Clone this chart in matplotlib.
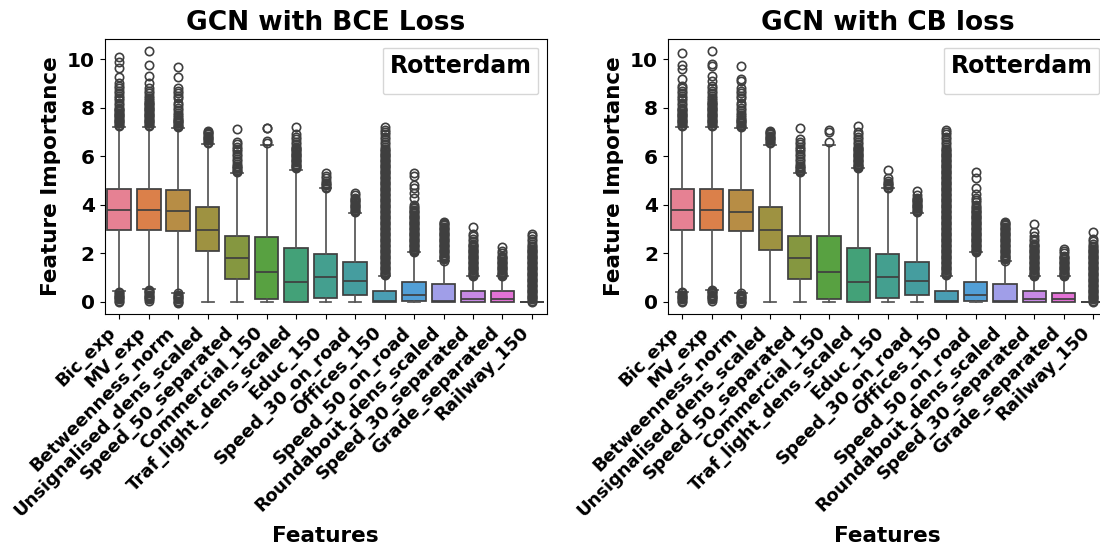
import matplotlib
matplotlib.use("Agg")
import matplotlib.pyplot as plt
from matplotlib.lines import Line2D
import seaborn as sns

features = ['Bic_exp', 'MV_exp', 'Betweenness_norm', 'Unsignalised_dens_scaled',
            'Speed_50_separated', 'Commercial_150', 'Traf_light_dens_scaled', 'Educ_150',
            'Speed_30_on_road', 'Offices_150', 'Speed_50_on_road', 'Roundabout_dens_scaled',
            'Speed_30_separated', 'Grade_separated', 'Railway_150']

# box statistics: whisker low, q1, median, q3, whisker high
bce_whislo = [0.45, 0.52, 0.38, 0, 0, 0, 0, 0, 0, 0, 0, 0, 0, 0, 0]
bce_q1 = [2.98, 2.98, 2.91, 2.11, 0.95, 0.11, 0.0, 0.17, 0.28, 0.0, 0.02, 0.0, 0.0, 0.0, 0.0]
bce_med = [3.77, 3.77, 3.74, 2.97, 1.82, 1.23, 0.80, 1.03, 0.87, 0.02, 0.28, 0.02, 0.12, 0.10, 0.0]
bce_q3 = [4.66, 4.66, 4.59, 3.89, 2.72, 2.66, 2.21, 1.96, 1.64, 0.44, 0.81, 0.72, 0.43, 0.43, 0.0]
bce_whishi = [7.2, 7.2, 7.15, 6.5, 5.3, 6.45, 5.45, 4.68, 3.68, 1.05, 2.04, 1.68, 1.05, 1.05, 0.0]

cb_whislo = [0.42, 0.48, 0.38, 0, 0, 0, 0, 0, 0, 0, 0, 0, 0, 0, 0]
cb_q1 = [2.95, 2.98, 2.91, 2.12, 0.95, 0.11, 0.0, 0.17, 0.27, 0.0, 0.02, 0.0, 0.0, 0.0, 0.0]
cb_med = [3.77, 3.77, 3.70, 2.98, 1.82, 1.23, 0.80, 1.03, 0.87, 0.02, 0.28, 0.02, 0.12, 0.10, 0.0]
cb_q3 = [4.66, 4.66, 4.59, 3.89, 2.72, 2.70, 2.21, 1.96, 1.64, 0.44, 0.81, 0.72, 0.43, 0.38, 0.0]
cb_whishi = [7.2, 7.2, 7.15, 6.45, 5.3, 6.45, 5.5, 4.68, 3.68, 1.08, 2.04, 1.68, 1.05, 1.05, 0.0]

# outliers that pile up into solid columns (same look in both panels)
dense_fliers = [
    [0.00, 0.05, 0.10, 0.15, 0.20, 0.25, 0.30, 0.35, 0.40,
     7.25, 7.30, 7.35, 7.40, 7.45, 7.50, 7.55, 7.60, 7.65, 7.70, 7.75, 7.80, 7.85,
     7.90, 7.95, 8.00],
    [0.05, 0.10, 0.15, 0.20, 0.25, 0.30, 0.35, 0.40, 0.45, 0.50,
     7.25, 7.30, 7.35, 7.40, 7.45, 7.50, 7.55, 7.60, 7.65, 7.70, 7.75, 7.80, 7.85,
     7.90, 7.95, 8.00, 8.05, 8.10, 8.15, 8.20, 8.25, 8.30],
    [-0.05, 0.00, 0.05, 0.10, 0.15, 0.20, 0.25, 0.30, 0.35,
     7.20, 7.25, 7.30, 7.35, 7.40, 7.45, 7.50, 7.55, 7.60],
    [6.55, 6.60, 6.65, 6.70, 6.75, 6.80, 6.85, 6.90, 6.95, 7.00, 7.05],
    [5.35, 5.40, 5.45, 5.50, 5.55, 5.60],
    [],
    [5.50, 5.55, 5.60, 5.65, 5.70, 5.75, 5.80, 5.85, 5.90, 5.95, 6.00, 6.05, 6.10,
     6.15, 6.20, 6.25, 6.30, 6.35, 6.40],
    [4.70, 4.75, 4.80, 4.85, 4.90],
    [3.70, 3.75, 3.80, 3.85, 3.90, 3.95, 4.00, 4.05, 4.10, 4.15, 4.20, 4.25, 4.30],
    [1.10, 1.15, 1.20, 1.25, 1.30, 1.35, 1.40, 1.45, 1.50, 1.55, 1.60, 1.65, 1.70,
     1.75, 1.80, 1.85, 1.90, 1.95, 2.00, 2.05, 2.10, 2.15, 2.20, 2.25, 2.30, 2.35,
     2.40, 2.45, 2.50, 2.55, 2.60, 2.65, 2.70, 2.75, 2.80, 2.85, 2.90, 2.95, 3.00,
     3.05, 3.10, 3.15, 3.20, 3.25, 3.30, 3.35, 3.40, 3.45, 3.50, 3.55, 3.60, 3.65,
     3.70, 3.75, 3.80, 3.85, 3.90, 3.95, 4.00, 4.05, 4.10, 4.15, 4.20, 4.25, 4.30,
     4.35, 4.40, 4.45, 4.50, 4.55, 4.60, 4.65, 4.70, 4.75, 4.80, 4.85, 4.90, 4.95,
     5.00, 5.05, 5.10, 5.15, 5.20, 5.25, 5.30, 5.35, 5.40, 5.45, 5.50, 5.55, 5.60,
     5.65, 5.70, 5.75, 5.80, 5.85, 5.90, 5.95, 6.00, 6.05, 6.10, 6.15, 6.20, 6.25,
     6.30],
    [2.05, 2.10, 2.15, 2.20, 2.25, 2.30, 2.35, 2.40, 2.45, 2.50, 2.55, 2.60, 2.65,
     2.70, 2.75, 2.80, 2.85, 2.90, 2.95, 3.00, 3.05, 3.10, 3.15, 3.20, 3.25, 3.30,
     3.35, 3.40, 3.45, 3.50, 3.55, 3.60, 3.65, 3.70, 3.75, 3.80, 3.85, 3.90],
    [1.70, 1.75, 1.80, 1.85, 1.90, 1.95, 2.00, 2.05, 2.10, 2.15, 2.20, 2.25, 2.30,
     2.35, 2.40, 2.45, 2.50, 2.55, 2.60, 2.65, 2.70, 2.75, 2.80, 2.85, 2.90, 2.95,
     3.00, 3.05, 3.10, 3.15, 3.20, 3.25, 3.30],
    [1.05, 1.10, 1.15, 1.20, 1.25, 1.30, 1.35, 1.40, 1.45, 1.50, 1.55, 1.60, 1.65,
     1.70, 1.75, 1.80, 1.85, 1.90, 1.95, 2.00, 2.05, 2.10, 2.15, 2.20, 2.25, 2.30,
     2.35, 2.40],
    [1.05, 1.10, 1.15, 1.20, 1.25, 1.30, 1.35, 1.40, 1.45, 1.50, 1.55, 1.60, 1.65,
     1.70, 1.75, 1.80, 1.85, 1.90],
    [0.00, 0.05, 0.10, 0.15, 0.20, 0.25, 0.30, 0.35, 0.40, 0.45, 0.50, 0.55, 0.60,
     0.65, 0.70, 0.75, 0.80, 0.85, 0.90, 0.95, 1.00, 1.05, 1.10, 1.15, 1.20, 1.25,
     1.30, 1.35, 1.40, 1.45, 1.50, 1.55, 1.60, 1.65, 1.70, 1.75, 1.80, 1.85, 1.90,
     1.95, 2.00, 2.05, 2.10, 2.15, 2.20, 2.25, 2.30],
]

# the sparser outliers above the solid columns, per panel
bce_extra_fliers = [
    [8.1, 8.2, 8.3, 8.4, 8.5, 8.6, 8.7, 8.8, 8.9, 9.0, 9.27, 9.65, 9.9, 10.1],
    [8.4, 8.5, 8.6, 8.7, 8.8, 9.0, 9.3, 9.76, 10.32],
    [7.7, 7.8, 7.9, 8.0, 8.1, 8.2, 8.4, 8.5, 8.6, 8.7, 8.8, 9.27, 9.68],
    [],
    [5.7, 5.8, 5.9, 6.0, 6.1, 6.2, 6.3, 6.4, 6.5, 6.6, 7.13],
    [6.55, 6.62, 7.15, 7.18],
    [6.5, 6.6, 6.7, 6.8, 6.9, 7.2],
    [5.0, 5.1, 5.2, 5.3],
    [4.4, 4.5],
    [6.4, 6.5, 6.6, 6.7, 6.8, 6.9, 7.0, 7.1, 7.2],
    [4.0, 4.3, 4.5, 4.7, 4.8, 5.2, 5.3],
    [],
    [2.5, 2.6, 2.7, 2.8, 3.1],
    [2.0, 2.1, 2.25],
    [2.4, 2.5, 2.6, 2.7, 2.8],
]

cb_extra_fliers = [
    [8.1, 8.2, 8.3, 8.4, 8.5, 8.6, 8.7, 8.8, 8.9, 9.2, 9.6, 9.75, 10.25],
    [8.4, 8.5, 8.6, 8.7, 8.8, 8.9, 9.1, 9.3, 9.7, 9.8, 10.32],
    [7.7, 7.8, 7.9, 8.0, 8.1, 8.2, 8.4, 8.5, 8.6, 8.7, 8.8, 9.1, 9.2, 9.72],
    [],
    [5.7, 5.8, 5.9, 6.0, 6.1, 6.2, 6.3, 6.4, 6.5, 6.6, 6.7, 7.15],
    [6.6, 7.0, 7.1],
    [6.5, 6.6, 6.7, 6.8, 6.9, 7.0, 7.25],
    [5.0, 5.1, 5.45],
    [4.4, 4.55],
    [6.4, 6.5, 6.6, 6.7, 6.8, 6.9, 7.0, 7.1],
    [4.0, 4.1, 4.2, 4.3, 4.45, 4.7, 5.1, 5.35],
    [],
    [2.5, 2.6, 2.7, 2.9, 3.2],
    [2.0, 2.1, 2.2],
    [2.4, 2.5, 2.6, 2.9],
]

titles = ['GCN with BCE Loss', 'GCN with CB loss']
city = 'Rotterdam'

colors = [sns.desaturate(c, 0.75) for c in sns.color_palette('husl', len(features))]
line_col = '#3f3f3f'


def make_stats(whislo, q1, med, q3, whishi, extra):
    stats = []
    for i in range(len(features)):
        stats.append(dict(whislo=whislo[i], q1=q1[i], med=med[i], q3=q3[i],
                          whishi=whishi[i], fliers=dense_fliers[i] + extra[i]))
    return stats


def draw(ax, stats, title):
    bp = ax.bxp(stats, positions=range(len(features)), widths=0.8, patch_artist=True,
                showfliers=True, capwidths=0.4,
                boxprops=dict(edgecolor=line_col, linewidth=1.25),
                whiskerprops=dict(color='#555555', linewidth=1.25),
                capprops=dict(color='#555555', linewidth=1.25),
                medianprops=dict(color=line_col, linewidth=1.25),
                flierprops=dict(marker='o', markerfacecolor='none',
                                markeredgecolor=line_col, markersize=6, markeredgewidth=1.2))
    for patch, c in zip(bp['boxes'], colors):
        patch.set_facecolor(c)
    ax.set_xlim(-0.5, len(features) - 0.5)
    ax.set_ylim(-0.48, 10.84)
    ax.set_yticks([0, 2, 4, 6, 8, 10])
    ax.set_xticks(range(len(features)))
    ax.set_xticklabels(features, rotation=45, ha='right', fontsize=13, fontweight='bold')
    for lab in ax.get_yticklabels():
        lab.set_fontsize(14.5)
        lab.set_fontweight('bold')
    ax.set_title(title, fontsize=19, fontweight='bold')
    ax.set_xlabel('Features', fontsize=15.5, fontweight='bold')
    ax.set_ylabel('Feature Importance', fontsize=15.5, fontweight='bold')
    ax.legend(handles=[Line2D([], [], linestyle='none')], labels=[''], title=city,
              loc='upper right', fontsize=5, handlelength=0, borderpad=0.9,
              borderaxespad=1.3,
              title_fontproperties={'weight': 'bold', 'size': 17})


fig = plt.figure(figsize=(11, 5.54), dpi=100)
ax1 = fig.add_axes([0.095, 0.434, 0.402, 0.496])
ax2 = fig.add_axes([0.607, 0.434, 0.400, 0.496])

draw(ax1, make_stats(bce_whislo, bce_q1, bce_med, bce_q3, bce_whishi, bce_extra_fliers), titles[0])
draw(ax2, make_stats(cb_whislo, cb_q1, cb_med, cb_q3, cb_whishi, cb_extra_fliers), titles[1])

fig.savefig('out.png', dpi=100)
